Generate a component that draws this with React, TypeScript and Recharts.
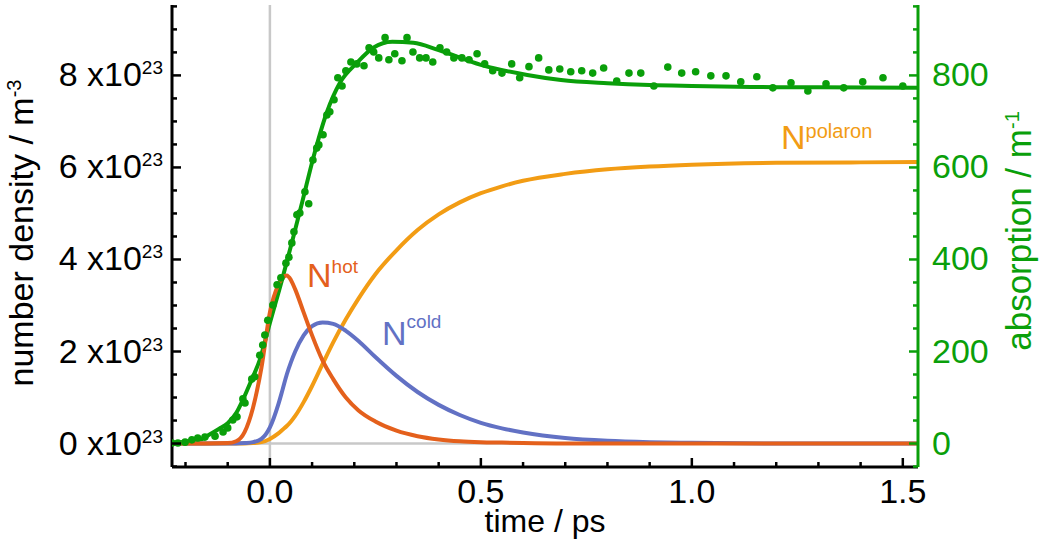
import React from "react";
import { ComposedChart, Line, Scatter, XAxis, YAxis, ReferenceLine } from "recharts";

// model curves (number density, units of 1e23 m^-3)
const tModel = [-0.232, -0.15, -0.1, -0.08, -0.06, -0.04, -0.02, 0, 0.02, 0.03, 0.04, 0.05, 0.06, 0.08, 0.1, 0.125, 0.15, 0.18, 0.21, 0.25, 0.3, 0.35, 0.4, 0.45, 0.5, 0.55, 0.6, 0.7, 0.8, 0.9, 1.0, 1.2, 1.4, 1.536];
const nHot = [0, 0, 0.01, 0.05, 0.25, 0.78, 1.65, 2.85, 3.45, 3.6, 3.65, 3.55, 3.35, 2.85, 2.35, 1.8, 1.4, 1.0, 0.72, 0.48, 0.28, 0.16, 0.09, 0.05, 0.03, 0.02, 0.01, 0, 0, 0, 0, 0, 0, 0];
const nCold = [0, 0, 0, 0, 0.01, 0.03, 0.1, 0.35, 0.85, 1.17, 1.5, 1.77, 2.0, 2.35, 2.55, 2.63, 2.6, 2.45, 2.23, 1.88, 1.47, 1.12, 0.84, 0.62, 0.45, 0.33, 0.24, 0.12, 0.06, 0.03, 0.015, 0, 0, 0];
const nPolaron = [0, 0, 0, 0, 0, 0.01, 0.03, 0.1, 0.22, 0.3, 0.38, 0.48, 0.6, 0.9, 1.25, 1.73, 2.2, 2.7, 3.15, 3.68, 4.2, 4.64, 4.98, 5.24, 5.44, 5.59, 5.71, 5.86, 5.96, 6.02, 6.06, 6.1, 6.11, 6.12];

// absorption fit (m^-1)
const tFit = [-0.232, -0.2, -0.166, -0.142, -0.12, -0.1, -0.08, -0.064, -0.045, -0.024, 0, 0.03, 0.055, 0.078, 0.102, 0.135, 0.166, 0.206, 0.245, 0.29, 0.34, 0.4, 0.5, 0.61, 0.69, 0.8, 0.9, 1.0, 1.14, 1.3, 1.536];
const absFit = [1, 4, 8, 20, 32, 44, 66, 95, 135, 182, 262, 360, 447, 530, 618, 720, 784, 827, 860, 873, 871, 855, 823, 801, 790, 783, 779, 777, 775, 774, 773];

// absorption measurements (m^-1)
const tMeas = [-0.232, -0.218, -0.201, -0.185, -0.171, -0.154, -0.13, -0.111, -0.1, -0.088, -0.078, -0.064, -0.059, -0.043, -0.036, -0.024, -0.017, -0.012, -0.005, 0.007, 0.017, 0.026, 0.038, 0.045, 0.052, 0.057, 0.064, 0.071, 0.083, 0.092, 0.102, 0.111, 0.116, 0.126, 0.135, 0.142, 0.152, 0.161, 0.171, 0.18, 0.192, 0.206, 0.223, 0.235, 0.246, 0.258, 0.273, 0.282, 0.296, 0.313, 0.325, 0.339, 0.355, 0.37, 0.386, 0.403, 0.419, 0.436, 0.455, 0.472, 0.491, 0.509, 0.528, 0.55, 0.573, 0.592, 0.614, 0.637, 0.661, 0.687, 0.713, 0.739, 0.765, 0.791, 0.822, 0.851, 0.879, 0.91, 0.943, 0.976, 1.009, 1.045, 1.081, 1.116, 1.154, 1.192, 1.235, 1.275, 1.318, 1.36, 1.405, 1.453, 1.5];
const absMeas = [1, 1, 3, 8, 12, 14, 16, 25, 34, 51, 58, 97, 88, 140, 145, 192, 214, 236, 268, 301, 345, 360, 392, 405, 436, 460, 497, 501, 547, 521, 616, 642, 649, 671, 714, 721, 747, 795, 777, 810, 829, 825, 821, 860, 851, 838, 882, 834, 847, 832, 882, 851, 838, 838, 829, 860, 851, 838, 838, 834, 847, 825, 810, 805, 825, 795, 819, 838, 812, 814, 808, 810, 805, 816, 788, 805, 805, 777, 818, 805, 808, 799, 799, 786, 797, 773, 784, 766, 782, 773, 786, 795, 777];

const timeTicks = [-0.2, -0.1, 0, 0.1, 0.2, 0.3, 0.4, 0.5, 0.6, 0.7, 0.8, 0.9, 1.0, 1.1, 1.2, 1.3, 1.4, 1.5];
const timeLabels = [0, 0.5, 1.0, 1.5];
const densityTicks = [-0.5, 0, 0.5, 1, 1.5, 2, 2.5, 3, 3.5, 4, 4.5, 5, 5.5, 6, 6.5, 7, 7.5, 8, 8.5, 9, 9.5];
const densityLabels = [0, 2, 4, 6, 8];
const absTicks = [-50, 0, 50, 100, 150, 200, 250, 300, 350, 400, 450, 500, 550, 600, 650, 700, 750, 800, 850, 900, 950];
const absLabels = [0, 200, 400, 600, 800];

const GREEN = "#0a9f0a";
const HOT = "#e4601c";
const COLD = "#6271c4";
const POLARON = "#f29c14";
const FONT = "'Liberation Sans', Arial, sans-serif";

const hotData = tModel.map((t, i) => ({ t, v: nHot[i] }));
const coldData = tModel.map((t, i) => ({ t, v: nCold[i] }));
const polaronData = tModel.map((t, i) => ({ t, v: nPolaron[i] }));
const fitData = tFit.map((t, i) => ({ t, a: absFit[i] }));
const measData = tMeas.map((t, i) => ({ t, a: absMeas[i] }));

const isIn = (arr: number[], v: number) => arr.some((a) => Math.abs(a - v) < 1e-6);

const BottomTick = (p: any) => {
  const v = p.payload.value;
  const major = isIn(timeLabels, v);
  return (
    <g>
      <line x1={p.x} x2={p.x} y1={p.y} y2={p.y - (major ? 9 : 5)} stroke="#000" strokeWidth={2.5} />
      {major && (
        <text x={p.x} y={p.y + 36} textAnchor="middle" fontSize={34} fontFamily={FONT} fill="#000">
          {v.toFixed(1)}
        </text>
      )}
    </g>
  );
};

const TopTick = (p: any) => {
  const major = isIn(timeLabels, p.payload.value);
  return <line x1={p.x} x2={p.x} y1={p.y} y2={p.y + (major ? 9 : 5)} stroke="#000" strokeWidth={2.5} />;
};

const LeftTick = (p: any) => {
  const v = p.payload.value;
  const major = isIn(densityLabels, v);
  return (
    <g>
      <line x1={p.x} x2={p.x + (major ? 9 : 5)} y1={p.y} y2={p.y} stroke="#000" strokeWidth={2.5} />
      {major && (
        <text x={p.x - 9} y={p.y + 11} textAnchor="end" fontSize={34} fontFamily={FONT} fill="#000">
          {`${v} x10`}
          <tspan dy={-12} fontSize={19}>23</tspan>
        </text>
      )}
    </g>
  );
};

const RightTick = (p: any) => {
  const v = p.payload.value;
  const major = isIn(absLabels, v);
  return (
    <g>
      <line x1={p.x} x2={p.x - (major ? 9 : 5)} y1={p.y} y2={p.y} stroke={GREEN} strokeWidth={2.5} />
      {major && (
        <text x={p.x + 14} y={p.y + 11} textAnchor="start" fontSize={34} fontFamily={FONT} fill={GREEN}>
          {v}
        </text>
      )}
    </g>
  );
};

export default function App() {
  return (
    <div style={{ position: "absolute", left: 0, top: 0, width: 1040, height: 542, background: "#fff" }}>
      <ComposedChart width={1040} height={542} margin={{ top: 5, right: 0, bottom: 0, left: 0 }}>
        <XAxis
          xAxisId="bottom"
          dataKey="t"
          type="number"
          domain={[-0.232, 1.536]}
          allowDataOverflow
          ticks={timeTicks}
          interval={0}
          height={75}
          tickSize={0}
          tickMargin={0}
          tickLine={false}
          axisLine={{ stroke: "#000", strokeWidth: 3 }}
          tick={(p: any) => <BottomTick {...p} />}
        />
        <XAxis
          xAxisId="top"
          orientation="top"
          dataKey="t"
          type="number"
          domain={[-0.232, 1.536]}
          allowDataOverflow
          ticks={timeTicks}
          interval={0}
          height={0}
          tickSize={0}
          tickMargin={0}
          tickLine={false}
          axisLine={{ stroke: "#000", strokeWidth: 3 }}
          tick={(p: any) => <TopTick {...p} />}
        />
        <YAxis
          yAxisId="left"
          type="number"
          domain={[-0.51, 9.53]}
          allowDataOverflow
          ticks={densityTicks}
          interval={0}
          width={172}
          tickSize={0}
          tickMargin={0}
          tickLine={false}
          axisLine={{ stroke: "#000", strokeWidth: 3 }}
          tick={(p: any) => <LeftTick {...p} />}
        />
        <YAxis
          yAxisId="right"
          orientation="right"
          type="number"
          domain={[-51, 953]}
          allowDataOverflow
          ticks={absTicks}
          interval={0}
          width={122}
          tickSize={0}
          tickMargin={0}
          tickLine={false}
          axisLine={{ stroke: GREEN, strokeWidth: 3 }}
          tick={(p: any) => <RightTick {...p} />}
        />
        <ReferenceLine xAxisId="bottom" yAxisId="left" x={0} stroke="#c8c8c8" strokeWidth={2.5} />
        <ReferenceLine xAxisId="bottom" yAxisId="left" y={0} stroke="#c8c8c8" strokeWidth={2.5} />
        <Scatter
          xAxisId="bottom"
          yAxisId="right"
          data={measData}
          dataKey="a"
          isAnimationActive={false}
          shape={(p: any) => <circle cx={p.cx} cy={p.cy} r={3.8} fill={GREEN} />}
        />
        <Line xAxisId="bottom" yAxisId="right" data={fitData} dataKey="a" type="monotone" stroke={GREEN} strokeWidth={4} dot={false} activeDot={false} isAnimationActive={false} />
        <Line xAxisId="bottom" yAxisId="left" data={polaronData} dataKey="v" type="monotone" stroke={POLARON} strokeWidth={4} dot={false} activeDot={false} isAnimationActive={false} />
        <Line xAxisId="bottom" yAxisId="left" data={coldData} dataKey="v" type="monotone" stroke={COLD} strokeWidth={4} dot={false} activeDot={false} isAnimationActive={false} />
        <Line xAxisId="bottom" yAxisId="left" data={hotData} dataKey="v" type="monotone" stroke={HOT} strokeWidth={4} dot={false} activeDot={false} isAnimationActive={false} />
      </ComposedChart>
      <svg width={1040} height={542} style={{ position: "absolute", left: 0, top: 0, pointerEvents: "none" }} fontFamily={FONT}>
        <text x={33} y={233} transform="rotate(-90 33 233)" textAnchor="middle" fontSize={34} fill="#000">
          number density / m<tspan dy={-12} fontSize={20}>-3</tspan>
        </text>
        <text x={1031} y={231} transform="rotate(-90 1031 231)" textAnchor="middle" fontSize={35} fill={GREEN}>
          absorption / m<tspan dy={-12} fontSize={20}>-1</tspan>
        </text>
        <text x={545} y={532} textAnchor="middle" fontSize={32} fill="#000">time / ps</text>
        <text x={307} y={287} fontSize={34} fill={HOT}>
          N<tspan dy={-14} fontSize={19}>hot</tspan>
        </text>
        <text x={382} y={345} fontSize={34} fill={COLD}>
          N<tspan dy={-17} fontSize={19}>cold</tspan>
        </text>
        <text x={781} y={149} fontSize={34} fill={POLARON}>
          N<tspan dy={-11} fontSize={20}>polaron</tspan>
        </text>
      </svg>
    </div>
  );
}
